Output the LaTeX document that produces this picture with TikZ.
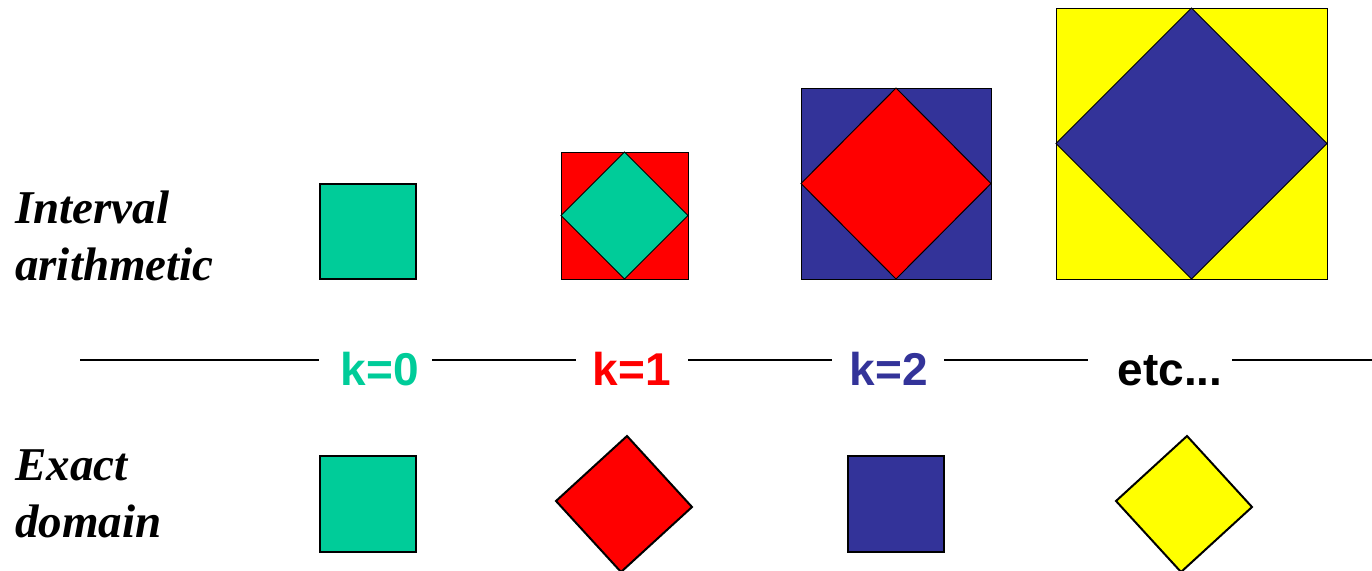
\documentclass[tikz,border=0pt]{standalone}
\usepackage{fontspec}
\setmainfont{Liberation Serif}
\newfontfamily\lsans{Liberation Sans}
\definecolor{cgreen}{RGB}{0,204,153}
\definecolor{cred}{RGB}{255,0,0}
\definecolor{cblue}{RGB}{51,51,153}
\definecolor{cyellow}{RGB}{255,255,0}
\begin{document}
\begin{tikzpicture}[x=1pt,y=-1pt,
  solo/.style={draw=black,line width=2pt,line join=miter},
  outer/.style={draw=black,line width=1pt},
  inner/.style={draw=black,line width=1pt,line join=miter},
  side/.style={font=\fontsize{47}{56}\selectfont\bfseries\itshape,anchor=base west,inner sep=0pt},
  klabel/.style={font=\lsans\fontsize{46}{55}\selectfont\bfseries,anchor=base,inner sep=0pt},
  axis/.style={draw=black,line width=2pt}]
\useasboundingbox (0,0) rectangle (1372,570);
% left labels
\node[side] (int1) at (15,223) {Interval};
\node[side] (int2) at (15,280) {arithmetic};
\node[side] (ex1) at (15,480) {Exact};
\node[side] (ex2) at (15,537) {domain};
% top row
\filldraw[solo,fill=cgreen] (320,184) rectangle (416,279);
\filldraw[outer,fill=cred] (561,152) rectangle (688,279);
\filldraw[inner,fill=cgreen] (624.5,152) -- (688,215.5) -- (624.5,279) -- (561,215.5) -- cycle;
\filldraw[outer,fill=cblue] (801,88) rectangle (991,279);
\filldraw[inner,fill=cred] (896,88) -- (991,183.5) -- (896,279) -- (801,183.5) -- cycle;
\filldraw[outer,fill=cyellow] (1056,8) rectangle (1327,279);
\filldraw[inner,fill=cblue] (1191.5,8) -- (1327,143.5) -- (1191.5,279) -- (1056,143.5) -- cycle;
% middle axis
\node[klabel,text=cgreen] (k0) at (380,385) {k=0};
\node[klabel,text=cred] (k1) at (632,385) {k=1};
\node[klabel,text=cblue] (k2) at (889,385) {k=2};
\node[klabel,text=black] (etc) at (1170,385) {etc...};
\coordinate (a0) at (80,360);
\coordinate (a1) at (319,360);
\coordinate (b0) at (432,360);
\coordinate (b1) at (576,360);
\coordinate (c0) at (688,360);
\coordinate (c1) at (832,360);
\coordinate (d0) at (944,360);
\coordinate (d1) at (1088,360);
\coordinate (e0) at (1232,360);
\coordinate (e1) at (1372,360);
\draw[axis] (a0) -- (a1);
\draw[axis] (b0) -- (b1);
\draw[axis] (c0) -- (c1);
\draw[axis] (d0) -- (d1);
\draw[axis] (e0) -- (e1);
% bottom row
\filldraw[solo,fill=cgreen] (320,456) rectangle (416,552);
\filldraw[solo,fill=cred] (627,436) -- (692,507) -- (621,572) -- (556,501) -- cycle;
\filldraw[solo,fill=cblue] (848,456) rectangle (944,552);
\filldraw[solo,fill=cyellow] (1187,436) -- (1252,507) -- (1181,572) -- (1116,501) -- cycle;
\end{tikzpicture}
\end{document}
